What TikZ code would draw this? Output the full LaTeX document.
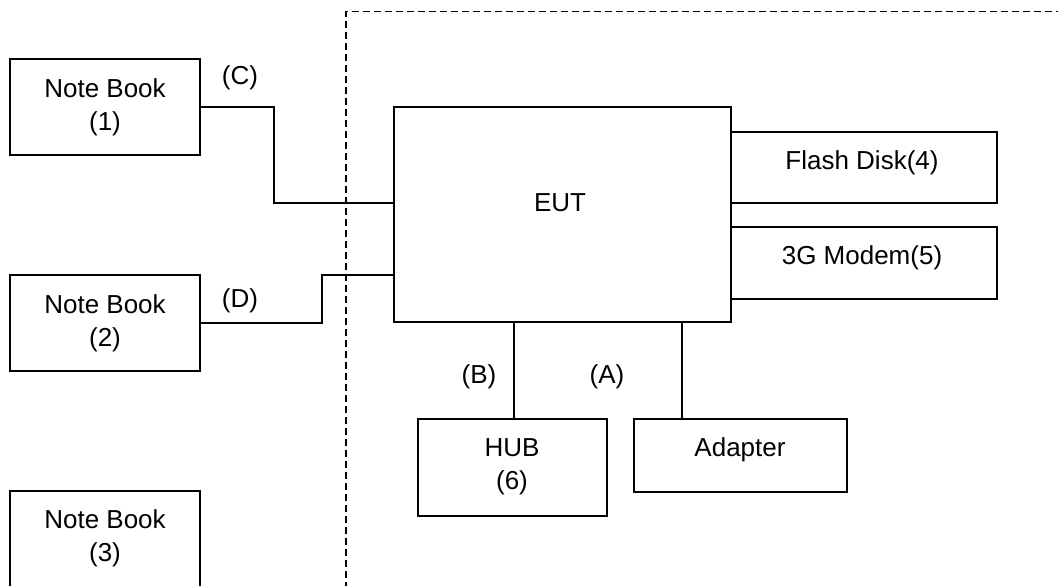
\documentclass[tikz,border=0pt]{standalone}
\usepackage{fontspec}
\setmainfont{Liberation Sans}
\usetikzlibrary{calc}
\begin{document}
\begin{tikzpicture}[x=1pt,y=-1pt,
  box/.style={draw,line width=1.9pt,inner sep=0pt,outer sep=0pt,rectangle},
  txt/.style={font=\fontsize{26}{33}\selectfont,align=center,inner sep=0pt},
  wire/.style={line width=1.8pt},
  lab/.style={font=\fontsize{26}{33}\selectfont,inner sep=0pt}]
\useasboundingbox (0,0) rectangle (1058,586);
\fill[white] (0,0) rectangle (1058,586);
% dashed enclosure
\coordinate (dtop) at (346,11.5);
\coordinate (dright) at (1070,11.5);
\coordinate (dbot) at (346,600);
\draw[line width=1.7pt,dash pattern=on 7pt off 4pt] (dbot) -- (dtop) -- (dright);
% notebooks
\node[box,minimum width=190pt,minimum height=96pt] (nb1) at (105,107) {};
\node[txt] (nb1t) at (105,107) {Note Book\\(1)};
\node[box,minimum width=190pt,minimum height=96pt] (nb2) at (105,323) {};
\node[txt] (nb2t) at (105,323) {Note Book\\(2)};
\node[box,minimum width=190pt,minimum height=96pt] (nb3) at (105,539) {};
\node[txt] (nb3t) at (105,538.5) {Note Book\\(3)};
% EUT and peripherals
\node[box,minimum width=337pt,minimum height=215pt] (eut) at (562.5,214.5) {};
\node[txt] (eutt) at (560,203) {EUT};
\node[box,minimum width=266pt,minimum height=71pt] (flash) at (864,167.5) {};
\node[txt] (flasht) at (862,163) {Flash Disk(4)};
\node[box,minimum width=266pt,minimum height=72pt] (modem) at (864,263) {};
\node[txt] (modemt) at (862,258) {3G Modem(5)};
\node[box,minimum width=189pt,minimum height=97pt] (hub) at (512.5,467.5) {};
\node[txt] (hubt) at (512,466.5) {HUB\\(6)};
\node[box,minimum width=213pt,minimum height=73pt] (adapter) at (740.5,455.5) {};
\node[txt] (adaptert) at (740,450) {Adapter};
% connectors
\coordinate (c1) at (274,203);
\draw[wire] (nb1.east) -| (c1) -- (c1 -| eut.west);
\coordinate (d1) at (322,275);
\draw[wire] (nb2.east) -| (d1) -- (d1 -| eut.west);
\coordinate (b1) at (514,0);
\draw[wire] (b1 |- eut.south) -- (b1 |- hub.north);
\coordinate (a1) at (682,0);
\draw[wire] (a1 |- eut.south) -- (a1 |- adapter.north);
% labels
\node[lab] (lC) at (240,78) {(C)};
\node[lab] (lD) at (240,301) {(D)};
\node[lab] (lB) at (479,377) {(B)};
\node[lab] (lA) at (607,377) {(A)};
\end{tikzpicture}
\end{document}
